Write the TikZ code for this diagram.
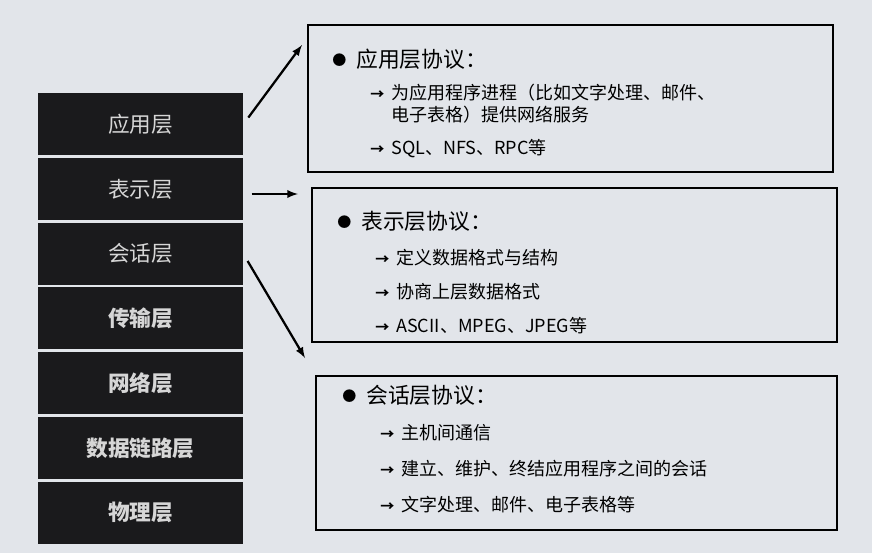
\documentclass[tikz,border=0pt]{standalone}
\usepackage{fontspec}
\setmainfont{Noto Sans CJK SC}

\definecolor{paper}{RGB}{226,229,234}
\definecolor{layerfill}{RGB}{26,26,28}
\definecolor{layertext}{RGB}{214,214,214}

\newcommand\phead[1]{{\fontsize{15.5}{18}\selectfont\makebox[0.6cm][l]{\raisebox{1.5pt}{\fontsize{10}{10}\selectfont ●}}#1}}
\newcommand\pitem[1]{\hspace*{0.95cm}\makebox[0.525cm][l]{\fontsize{10}{10}\selectfont\bfseries →}#1}
\newcommand\pcont[1]{\hspace*{1.475cm}#1}

\tikzset{
  layer/.style={fill=layerfill, text=layertext, minimum width=5.125cm,
    minimum height=1.55cm, inner sep=0pt, font=\fontsize{15.4}{18}\selectfont},
  boldlayer/.style={layer, font=\fontsize{15.4}{18}\selectfont\bfseries},
  pbox/.style={draw, line width=1pt, minimum width=13.125cm, inner sep=0pt},
  ptext/.style={anchor=north west, inner sep=0pt, align=left,
    font=\fontsize{12.8}{24.5}\selectfont},
  arr/.style={line width=1.6pt, -latex, shorten <=6pt}
}

\begin{document}
\begin{tikzpicture}[x=0.025cm,y=-0.025cm]
\fill[paper] (0,0) rectangle (872,553);
\path (140.5,124.35) node[layer] (l1) {应用层}
      (140.5,189.05) node[layer] (l2) {表示层}
      (140.5,253.75) node[layer] (l3) {会话层}
      (140.5,318.45) node[boldlayer] (l4) {传输层}
      (140.5,383.15) node[boldlayer] (l5) {网络层}
      (140.5,447.85) node[boldlayer] (l6) {数据链路层}
      (140.5,512.55) node[boldlayer] (l7) {物理层};

\path (570.5,98.5) node[pbox, minimum height=3.675cm] (b1) {}
      (574.5,265) node[pbox, minimum height=3.85cm] (b2) {}
      (576.5,453) node[pbox, minimum width=13.025cm, minimum height=3.85cm] (b3) {};

\node[ptext] (t1) at (332,49) {\phead{应用层协议：}\\[-2pt]
  \pitem{为应用程序进程（比如文字处理、邮件、}\\[-9pt]
  \pcont{电子表格）提供网络服务}\\[-1pt]
  \pitem{SQL、NFS、RPC等}};
\node[ptext] (t2) at (337,211) {\phead{表示层协议：}\\
  \pitem{定义数据格式与结构}\\
  \pitem{协商上层数据格式}\\
  \pitem{ASCII、MPEG、JPEG等}};
\node[ptext] (t3) at (342,385) {\phead{会话层协议：}\\[1pt]
  \pitem{主机间通信}\\[1pt]
  \pitem{建立、维护、终结应用程序之间的会话}\\[1pt]
  \pitem{文字处理、邮件、电子表格等}};

\coordinate (e1) at (302,45);
\coordinate (e2) at (298,194);
\coordinate (e3) at (305,358);
\draw[arr] (l1.east) -- (e1);
\draw[arr] (l2.east |- e2) -- (e2);
\draw[arr] (l3.east) -- (e3);
\end{tikzpicture}
\end{document}
